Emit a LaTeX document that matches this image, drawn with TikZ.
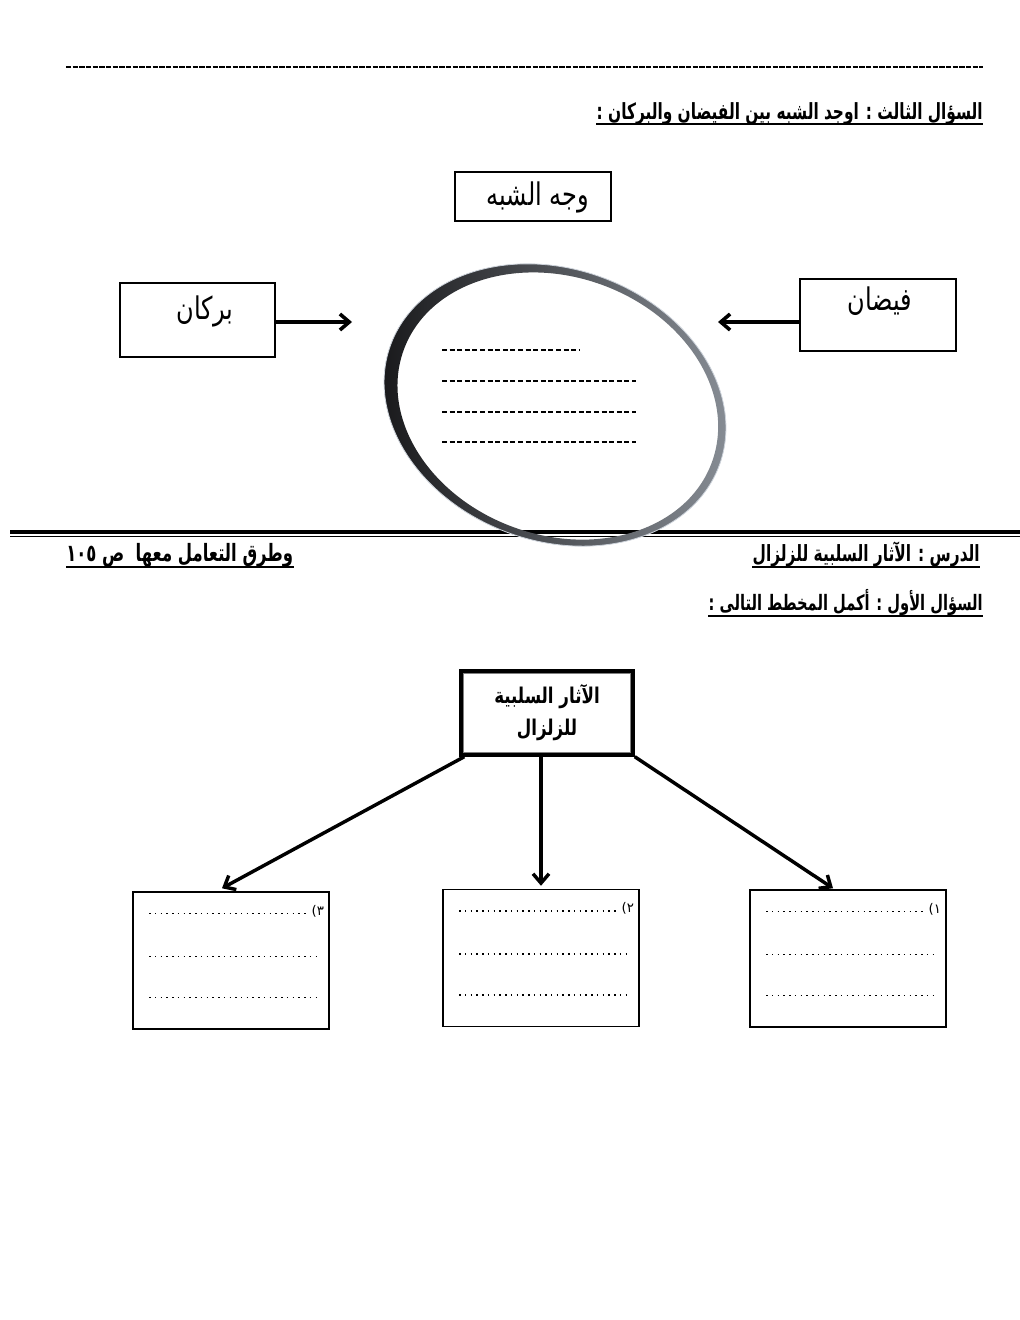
\documentclass[tikz,border=0pt]{standalone}
\usepackage{fontspec}
\usepackage{graphicx}
\newfontfamily\arabicfont[Script=Arabic]{DejaVu Sans}
\newfontfamily\latinfont{DejaVu Sans}
\TeXXeTstate=1
\usetikzlibrary{arrows.meta,calc}
\definecolor{ringdark}{RGB}{20,20,22}
\definecolor{ringsilver}{RGB}{200,206,214}
\definecolor{ringmid}{RGB}{140,146,154}
\definecolor{ringedge}{RGB}{205,211,219}
\newcommand{\headfit}[2]{\scalebox{1}[1.45]{\resizebox{#1}{!}{#2}}}
\newcommand{\tall}[1]{\scalebox{1}[1.3]{#1}}
\begin{document}
\begin{tikzpicture}[x=0.75pt,y=-0.75pt,
  every node/.style={inner sep=0pt},
  heading/.style={font=\arabicfont\bfseries},
  framebox/.style={draw, line width=1.1pt},
  bigtext/.style={font=\arabicfont\fontsize{18}{22}\selectfont},
  arrtop/.style={line width=2.7pt, -{Straight Barb[length=7pt,width=12pt]}},
  arrbot/.style={line width=2.6pt, -{Straight Barb[length=7pt,width=12pt]}},
  dotline/.style={line width=1.1pt, dash pattern=on 1.1pt off 3.2pt},
  fillline/.style={line width=1.4pt, dash pattern=on 3.8pt off 1.9pt},
  uline/.style={line width=1.1pt}]
\useasboundingbox (0,0) rectangle (1020,1320);
\fill[white] (0,0) rectangle (1020,1320);

% top dashed separator
\draw[line width=1.5pt, dash pattern=on 3.9pt off 1.1pt] (66,67) -- (983,67);

% question 3 heading
\node[heading, anchor=base east] (q3) at (983,119)
  {\headfit{289.5pt}{\beginR السؤال الثالث : اوجد الشبه بين الفيضان والبركان :\endR}};
\draw[uline] ($(q3.base west)+(0,5)$) -- ($(q3.base east)+(0,5)$);

% boxes
\node[framebox, minimum width=117pt, minimum height=36.75pt] (sim) at (533,196.5) {};
\node[bigtext] (simt) at (538,197) {\tall{\beginR وجه الشبه\endR}};

\node[framebox, minimum width=116.25pt, minimum height=55.5pt] (burkan) at (197.5,320) {};
\node[bigtext] (burkant) at (205,311) {\tall{\beginR بركان\endR}};

\node[framebox, minimum width=117pt, minimum height=54pt] (faydan) at (878,315) {};
\node[bigtext] (faydant) at (880,301) {\tall{\beginR فيضان\endR}};

% double line
\draw[line width=3pt] (10,532) -- (1020,532);
\draw[line width=0.8pt] (10,536.5) -- (1020,536.5);

% ring
\begin{scope}[rotate around={-20:(555,405)}]
  \shade[even odd rule, left color=ringdark, middle color=ringsilver, right color=ringmid]
    (555,405) ellipse [x radius=175, y radius=136]
    (558,405) ellipse [x radius=164, y radius=129];
  \draw[color=ringedge, line width=0.6pt] (555,405) ellipse [x radius=175, y radius=136];
\end{scope}
\coordinate (ringL) at (352,322);
\coordinate (ringR) at (718,322);
\draw[arrtop] (burkan.east |- ringL) -- (ringL);
\draw[arrtop] (faydan.west |- ringR) -- (ringR);

% blank lines inside ring
\draw[fillline] (442,350) -- (580,350);
\foreach \yy in {381,412,442} \draw[fillline] (442,\yy) -- (636,\yy);

% lesson headings
\node[heading, anchor=base east] (lesson) at (980,561)
  {\headfit{170.25pt}{\beginR الدرس : الآثار السلبية للزلزال\endR}};
\draw[uline] ($(lesson.base west)+(0,6)$) -- ($(lesson.base east)+(0,6)$);
\node[heading, anchor=base west] (lesson2) at (66,561)
  {\headfit{170.25pt}{\beginR وطرق التعامل معها\ \ ص \beginL ١٠٥\endL\endR}};
\draw[uline] ($(lesson2.base west)+(0,6)$) -- ($(lesson2.base east)+(0,6)$);
\node[heading, anchor=base east] (q1) at (983,610)
  {\headfit{205.5pt}{\beginR السؤال الأول : أكمل المخطط التالى :\endR}};
\draw[uline] ($(q1.base west)+(0,6)$) -- ($(q1.base east)+(0,6)$);

% diagram 2
\node[draw, line width=2.6pt, minimum width=129pt, minimum height=63pt, align=center,
      font=\arabicfont\bfseries\fontsize{12.5}{24}\selectfont] (effects) at (547,713)
  {\tall{\beginR الآثار السلبية\endR}\\\tall{\beginR للزلزال\endR}};
\draw[gray, line width=0.8pt] ($(effects.north west)+(4.5,4.5)$) rectangle ($(effects.south east)+(-4.5,-4.5)$);

\node[framebox, minimum width=147pt, minimum height=102.75pt] (b1) at (848,958.5) {};
\node[framebox, minimum width=147pt, minimum height=102.75pt] (b2) at (541,958) {};
\node[framebox, minimum width=147pt, minimum height=102.75pt] (b3) at (231,960.5) {};

\foreach \n/\d in {b1/١,b2/٢,b3/٣}{
  \node[anchor=base east, font=\fontsize{10}{12}\selectfont] (\n num) at ($(\n.north west)+(192,24)$) {{\latinfont(}{\arabicfont\d}};
  \draw[dotline] ($(\n.north west)+(17,22)$) -- ($(\n.north west)+(174,22)$);
  \draw[dotline] ($(\n.north west)+(17,65)$) -- ($(\n.north west)+(185,65)$);
  \draw[dotline] ($(\n.north west)+(17,106)$) -- ($(\n.north west)+(185,106)$);
}

\draw[arrbot] ($(effects.south west)+(5,0)$) -- ($(b3.north)+(-9,-3)$);
\draw[arrbot] ($(effects.south)+(-6,0)$) -- ($(b2.north)+(0,-3)$);
\draw[arrbot] (effects.south east) -- ($(b1.north)+(-15,-1)$);
\end{tikzpicture}
\end{document}
